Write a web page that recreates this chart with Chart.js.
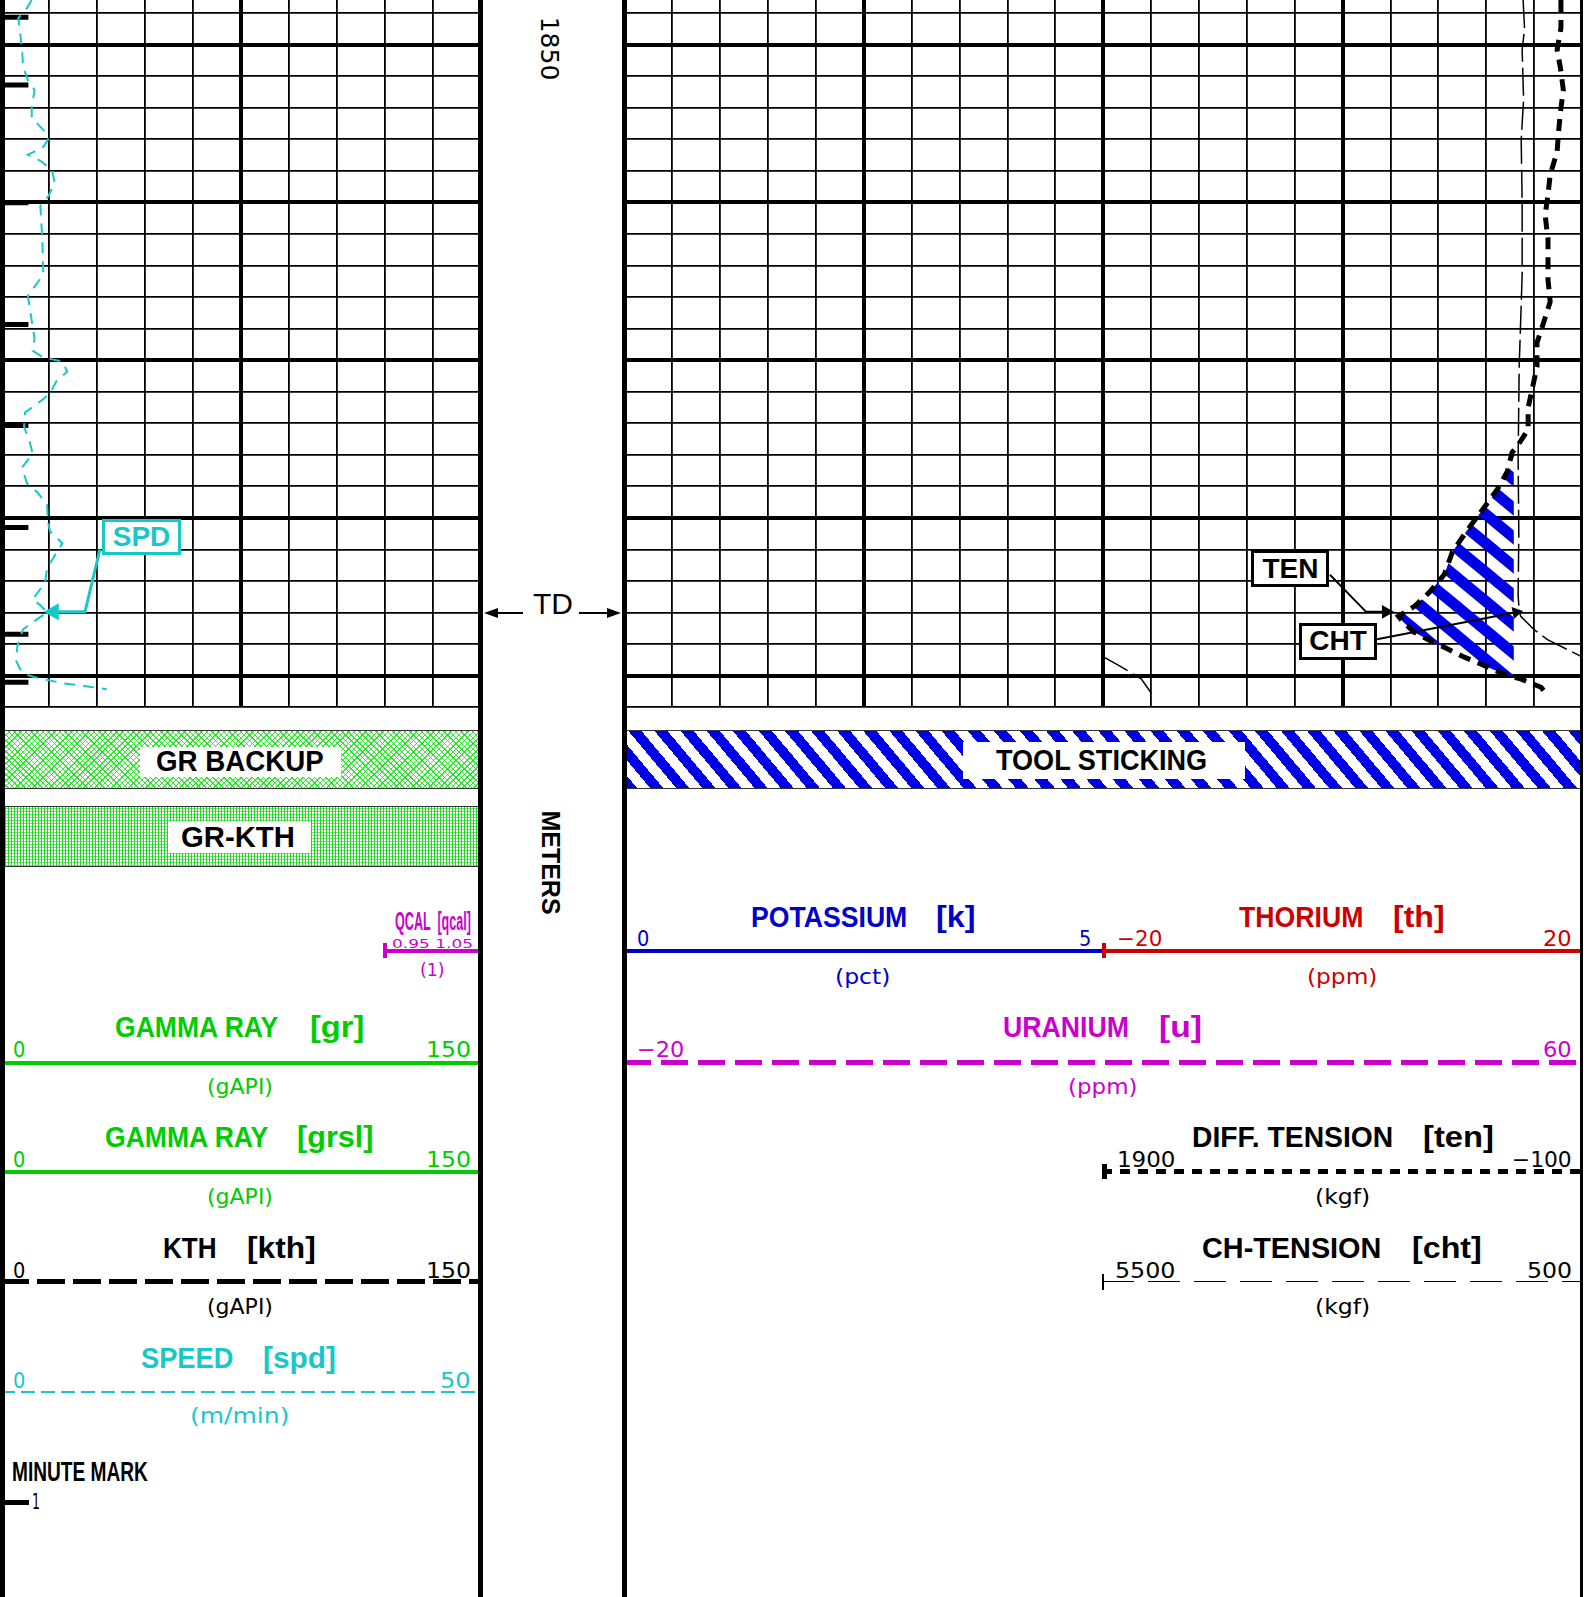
<!DOCTYPE html>
<html>
<head>
<meta charset="utf-8">
<title>Log - GR / KTH / tension</title>
<script src="https://cdn.jsdelivr.net/npm/chart.js@4.4.1/dist/chart.umd.min.js"></script>
<style>
  html, body { margin: 0; padding: 0; background: #fff; }
  #page { position: relative; width: 1584px; height: 1597px; overflow: hidden; background: #fff; }
  canvas { position: absolute; top: 0; }
  .t { position: absolute; white-space: pre; line-height: 1; transform-origin: 0 50%; }
  .ttl { font-family: 'Liberation Sans', Arial, sans-serif; font-weight: bold; }
  .lbl { font-family: 'DejaVu Sans', sans-serif; }
  .r { position: absolute; }
  .tag { position: absolute; box-sizing: border-box; background: #fff; border: 3px solid #000;
         display: flex; align-items: center; justify-content: center;
         font: bold 28px 'Liberation Sans', Arial, sans-serif; }
</style>
</head>
<body>
<div id="page">
  <canvas id="trk1" style="left:0px" width="484" height="712"></canvas>
  <canvas id="trk23" style="left:620px" width="964" height="712"></canvas>
</div>
<script>
const page = document.getElementById('page');
const CYAN = '#18c8c8', GREEN = '#00cc00', BLUE = '#0000cc', RED = '#cc0000', MAG = '#cc00cc', HATCH = '#0000e6';

// depth window of the plot (m)
const depthTop = 1847.18;
const depthBase = 1892;
const depthLabels = [1850];
const tdDepth = 1886.0;

// logging speed, m/min
const spdDepth = [1847.18, 1847.69, 1848.32, 1849.27, 1850.35, 1851.42, 1852.25, 1852.88, 1853.96, 1854.59,
  1855.09, 1855.54, 1856.04, 1856.49, 1856.87, 1856.99, 1857.37, 1857.94, 1858.77, 1859.65,
  1860.22, 1862.31, 1864.59, 1865.92, 1867.50, 1868.64, 1869.40, 1869.84, 1870.09, 1870.73,
  1871.30, 1872.12, 1872.75, 1873.32, 1874.21, 1875.22, 1875.92, 1876.80, 1877.82, 1878.39,
  1879.15, 1880.28, 1880.85, 1881.61, 1882.18, 1883.20, 1884.08, 1885.16, 1885.54, 1885.98,
  1886.61, 1887.06, 1887.37, 1888.13, 1889.08, 1889.59, 1889.90, 1890.09, 1890.47, 1890.66, 1890.85];
const spdValue = [3.2, 2.7, 1.8, 2.0, 2.2, 2.3, 2.8, 3.5, 3.2, 3.2,
  3.9, 4.6, 4.9, 4.4, 3.2, 2.8, 4.1, 5.3, 5.6, 4.9,
  4.1, 4.3, 4.4, 2.8, 3.2, 3.5, 3.3, 4.4, 6.4, 6.9,
  5.8, 5.1, 3.8, 2.5, 2.4, 3.0, 3.3, 2.2, 2.7, 3.8,
  4.8, 4.9, 5.1, 6.4, 5.8, 4.8, 4.6, 3.3, 4.1, 4.8,
  3.3, 2.3, 2.1, 1.7, 1.6, 2.0, 2.5, 3.5, 6.4, 8.8, 11.0];

// minute marks (depth)
const minuteMarks = [1848.28, 1852.56, 1860.03, 1867.75, 1874.15, 1880.60, 1887.37, 1890.41];

// differential tension, kgf
const tenDepth = [1847.18, 1847.82, 1848.96, 1850.35, 1851.49, 1852.88, 1854.27, 1855.54, 1856.80, 1858.26,
  1859.53, 1860.79, 1862.37, 1863.77, 1864.91, 1866.30, 1867.75, 1868.89, 1870.41, 1871.55,
  1873.01, 1874.40, 1875.47, 1875.85, 1877.06, 1878.20, 1879.59, 1880.85, 1882.18, 1883.58,
  1884.72, 1885.60, 1886.23, 1886.55, 1887.25, 1887.69, 1888.20, 1888.77, 1889.27, 1889.90,
  1890.22, 1890.73, 1891.11];
const tenValue = [-12, -12, -12, 4, -10, -22, -10, -2, 4, 33,
  42, 54, 42, 42, 42, 33, 63, 88, 88, 104,
  125, 125, 171, 192, 212, 254, 321, 383, 442, 475,
  538, 600, 667, 650, 600, 546, 475, 400, 321, 225,
  154, 71, 50];

// cable head tension, kgf
const chtDepth = [1847.18, 1849.00, 1850.35, 1853.50, 1856.04, 1860.00, 1864.59, 1870.41, 1876.23, 1881.00,
  1884.91, 1885.92, 1886.24, 1887.08, 1887.71, 1887.92, 1888.34, 1888.87, 1889.44, 1890.20, 1891.08];
const chtValue = [1115, 1100, 1125, 1110, 1135, 1125, 1125, 1156, 1167, 1160,
  1167, 1156, 1139, 1000, 861, 792, 653, 479, 312, 104, 0];

// tool sticking flag: TEN above this value
const stickLimit = 185;

// label leaders (value, depth)
const spdLeaderX = [10.3, 8.75, 5.5], spdLeaderY = [1882.0, 1885.95, 1885.95];
const tenLeaderX = [953, 802, 719], tenLeaderY = [1883.6, 1885.95, 1885.95];
const chtLeaderX = [756, 175], chtLeaderY = [1887.69, 1885.98];

const pairs = (xs, ys) => xs.map((x, i) => ({ x: x, y: ys[i] }));

// CHT wraps round once it passes the right edge (500 kgf)
function splitCht() {
  const main = [], wrap = [];
  for (let i = 0; i < chtDepth.length; i++) {
    const v = chtValue[i], d = chtDepth[i];
    if (i > 0 && (chtValue[i - 1] - 500) * (v - 500) < 0) {
      const t = (500 - chtValue[i - 1]) / (v - chtValue[i - 1]);
      const dc = chtDepth[i - 1] + t * (d - chtDepth[i - 1]);
      main.push({ x: 500, y: dc });
      wrap.push({ x: 5500, y: dc });
    }
    if (v >= 500) main.push({ x: v, y: d });
    else wrap.push({ x: v + 5000, y: d });
  }
  return { main, wrap };
}

// area between TEN and the sticking limit
function stickPolygon() {
  const pts = [];
  for (let i = 0; i < tenDepth.length; i++) {
    const v = tenValue[i], d = tenDepth[i];
    if (i > 0 && (tenValue[i - 1] - stickLimit) * (v - stickLimit) < 0) {
      const t = (stickLimit - tenValue[i - 1]) / (v - tenValue[i - 1]);
      pts.push({ x: stickLimit, y: tenDepth[i - 1] + t * (d - tenDepth[i - 1]) });
    }
    if (v > stickLimit) pts.push({ x: v, y: d });
  }
  return pts;
}

function stripePattern(w, h, lw, color) {
  const c = document.createElement('canvas');
  c.width = w; c.height = h;
  const g = c.getContext('2d');
  g.strokeStyle = color;
  g.lineWidth = lw;
  for (let k = -2; k <= 2; k++) {
    g.beginPath();
    g.moveTo(k * w - w, -h);
    g.lineTo(k * w + 2 * w, 2 * h);
    g.stroke();
  }
  return g.createPattern(c, 'repeat');
}

const gridDepths = [];
for (let d = 1848; d <= depthBase; d += 2) gridDepths.push(d);

function depthAxis() {
  return {
    type: 'linear', reverse: true, min: depthTop, max: depthBase,
    afterBuildTicks: ax => { ax.ticks = gridDepths.map(v => ({ value: v })); },
    grid: { color: '#000', drawTicks: false, lineWidth: c => (c.tick && c.tick.value % 10 === 0) ? 4 : 1.8 },
    border: { display: false },
    ticks: { display: false }
  };
}

const common = {
  responsive: false, animation: false, devicePixelRatio: 1, events: [],
  plugins: { legend: { display: false }, tooltip: { enabled: false } }
};

const trk1 = new Chart(document.getElementById('trk1'), {
  type: 'scatter',
  data: {
    datasets: [
      { label: 'SPD', xAxisID: 'xs', data: pairs(spdValue, spdDepth), showLine: true, fill: false,
        borderColor: CYAN, borderWidth: 2, borderDash: [11, 8], pointRadius: 0 },
      { label: 'Minute mark', xAxisID: 'xs', data: minuteMarks.map(d => ({ x: 1.5, y: d })),
        pointStyle: 'line', pointRadius: 13, pointBorderWidth: 5, pointBorderColor: '#000', borderColor: '#000' },
      { label: 'SPD leader', xAxisID: 'xs', data: pairs(spdLeaderX, spdLeaderY), showLine: true, fill: false,
        borderColor: CYAN, borderWidth: 3, pointRadius: [0, 0, 7], pointStyle: 'triangle', pointRotation: -90,
        pointBackgroundColor: CYAN, pointBorderColor: CYAN }
    ]
  },
  options: Object.assign({}, common, {
    layout: { autoPadding: false, padding: { left: 1, right: 3, top: 0, bottom: 4.7 } },
    scales: {
      x: { type: 'linear', min: 0, max: 150, ticks: { display: false, stepSize: 15 }, border: { display: false },
           grid: { color: '#000', drawTicks: false,
                   lineWidth: c => (c.index === 0 || c.index === 10) ? 0 : (c.index === 5 ? 4 : 1.8) } },
      xs: { type: 'linear', min: 0, max: 50, display: false },
      y: depthAxis()
    }
  })
});

const cht = splitCht();
const trk23 = new Chart(document.getElementById('trk23'), {
  type: 'scatter',
  data: {
    datasets: [
      { label: 'Tool sticking', xAxisID: 'xten', data: stickPolygon(), showLine: true, fill: 'shape',
        backgroundColor: stripePattern(35, 29, 11, HATCH), borderColor: 'rgba(0,0,0,0)', borderWidth: 1,
        pointRadius: 0, order: 5 },
      { label: 'TEN', xAxisID: 'xten', data: pairs(tenValue, tenDepth), showLine: true, fill: false,
        borderColor: '#000', borderWidth: 5, borderDash: [12, 8], pointRadius: 0, order: 1 },
      { label: 'CHT', xAxisID: 'xcht', data: cht.main, showLine: true, fill: false,
        borderColor: '#000', borderWidth: 1.5, borderDash: [28, 6], pointRadius: 0, order: 2 },
      { label: 'CHT wrap', xAxisID: 'xcht', data: cht.wrap, showLine: true, fill: false,
        borderColor: '#000', borderWidth: 1.5, borderDash: [28, 6], pointRadius: 0, order: 2 },
      { label: 'TEN leader', xAxisID: 'xten', data: pairs(tenLeaderX, tenLeaderY), showLine: true, fill: false,
        borderColor: '#000', borderWidth: 2, pointRadius: [0, 0, 6], pointStyle: 'triangle', pointRotation: 90,
        pointBackgroundColor: '#000', pointBorderColor: '#000', order: 0 },
      { label: 'CHT leader', xAxisID: 'xten', data: pairs(chtLeaderX, chtLeaderY), showLine: true, fill: false,
        borderColor: '#000', borderWidth: 2, pointRadius: [0, 5], pointStyle: 'triangle', pointRotation: 79,
        pointBackgroundColor: '#000', pointBorderColor: '#000', order: 0 }
    ]
  },
  options: Object.assign({}, common, {
    layout: { autoPadding: false, padding: { left: 4.5, right: 2, top: 0, bottom: 4.7 } },
    scales: {
      x: { type: 'linear', min: 0, max: 20, ticks: { display: false, stepSize: 1 }, border: { display: false },
           grid: { color: '#000', drawTicks: false,
                   lineWidth: c => (c.index === 0 || c.index === 20) ? 0 : (c.index % 5 === 0 ? 4 : 1.8) } },
      xten: { type: 'linear', min: -100, max: 3900, reverse: true, display: false },
      xcht: { type: 'linear', min: 500, max: 10500, reverse: true, display: false },
      y: depthAxis()
    }
  })
});

// ---------- html helpers ----------
function box(x1, y1, x2, y2, css) {
  const d = document.createElement('div');
  d.className = 'r';
  d.style.cssText = `left:${x1}px;top:${y1}px;width:${x2 - x1}px;height:${y2 - y1}px;` + (css || '');
  page.appendChild(d);
  return d;
}
function txt(str, x1, x2, yc, size, color, cls) {
  const d = document.createElement('div');
  d.className = 't ' + cls;
  d.textContent = str;
  d.style.cssText = `font-size:${size}px;color:${color};left:${x1}px;top:${yc - size * 0.49}px;`;
  page.appendChild(d);
  d.style.transform = `scaleX(${((x2 - x1) / d.offsetWidth).toFixed(3)})`;
  return d;
}
function hline(x1, x2, y, th, color, dash) {
  const bg = dash
    ? `repeating-linear-gradient(90deg,${color} 0 ${dash[0]}px,transparent ${dash[0]}px ${dash[0] + dash[1]}px)`
    : color;
  return box(x1, y - th / 2, x2, y + th / 2, `background:${bg};`);
}
function rotText(str, cx, cy, size, weight, family) {
  const d = document.createElement('div');
  d.className = 't';
  d.textContent = str;
  d.style.cssText = `font-family:${family};font-size:${size}px;font-weight:${weight};color:#000;`;
  page.appendChild(d);
  const w = d.offsetWidth, h = d.offsetHeight;
  d.style.left = (cx - w / 2) + 'px';
  d.style.top = (cy - h / 2) + 'px';
  d.style.transformOrigin = '50% 50%';
  d.style.transform = 'rotate(90deg)';
}

// ---------- header: flags ----------
box(2, 730, 480, 789, 'border-top:1.5px solid #333;border-bottom:1.5px solid #333;box-sizing:border-box;' +
  'background-color:#fff;background-image:repeating-linear-gradient(45deg,rgba(0,230,0,.8) 0 1px,transparent 1px 4px),' +
  'repeating-linear-gradient(-45deg,rgba(0,230,0,.8) 0 1px,transparent 1px 4px);');
box(140, 747, 341, 777, 'background:#fff;');
txt('GR BACKUP', 156, 324, 761, 29, '#000', 'ttl');

box(2, 806, 480, 867, 'border-top:1.5px solid #333;border-bottom:1.5px solid #333;box-sizing:border-box;' +
  'background-color:#fff;background-image:repeating-linear-gradient(90deg,rgba(0,210,0,.85) 0 1px,transparent 1px 3px),' +
  'repeating-linear-gradient(0deg,rgba(0,210,0,.55) 0 1px,transparent 1px 3px);');
box(168, 821, 311, 853, 'background:#fff;');
txt('GR-KTH', 181, 295, 837, 29, '#000', 'ttl');

box(624, 730, 1581, 789, 'border-top:1.5px solid #333;border-bottom:1.5px solid #333;box-sizing:border-box;' +
  'background:repeating-linear-gradient(50deg,' + HATCH + ' 0 10px,#fff 10px 20px);');
box(963, 742, 1245, 779, 'background:#fff;');
txt('TOOL STICKING', 996, 1207, 760, 29, '#000', 'ttl');

// ---------- header: track 1 curves ----------
txt('QCAL  [qcal]', 395, 471, 921, 26, MAG, 'ttl');
txt('0.95 1.05', 392, 473, 943, 13, MAG, 'lbl');
hline(383, 481, 950.5, 4, MAG);
box(383, 943, 387, 958, 'background:' + MAG + ';');
txt('(1)', 420, 445, 970, 18, MAG, 'lbl');

txt('GAMMA RAY', 115, 278, 1027, 29, GREEN, 'ttl');
txt('[gr]', 310, 364, 1027, 29, GREEN, 'ttl');
txt('0', 13, 25, 1050, 21, GREEN, 'lbl');
txt('150', 426, 471, 1050, 21, GREEN, 'lbl');
hline(1, 481, 1062.5, 4, GREEN);
txt('(gAPI)', 207, 273, 1087, 21, GREEN, 'lbl');

txt('GAMMA RAY', 105, 268, 1137, 29, GREEN, 'ttl');
txt('[grsl]', 297, 374, 1137, 29, GREEN, 'ttl');
txt('0', 13, 25, 1160, 21, GREEN, 'lbl');
txt('150', 426, 471, 1160, 21, GREEN, 'lbl');
hline(1, 481, 1171.5, 4, GREEN);
txt('(gAPI)', 207, 273, 1197, 21, GREEN, 'lbl');

txt('KTH', 163, 217, 1248, 29, '#000', 'ttl');
txt('[kth]', 247, 316, 1248, 29, '#000', 'ttl');
txt('0', 13, 25, 1271, 21, '#000', 'lbl');
txt('150', 426, 471, 1271, 21, '#000', 'lbl');
hline(1, 481, 1281.5, 5, '#000', [28, 8]);
txt('(gAPI)', 207, 273, 1307, 21, '#000', 'lbl');

txt('SPEED', 141, 233, 1358, 29, CYAN, 'ttl');
txt('[spd]', 263, 336, 1358, 29, CYAN, 'ttl');
txt('0', 13, 25, 1381, 21, CYAN, 'lbl');
txt('50', 440, 471, 1381, 21, CYAN, 'lbl');
hline(1, 481, 1391.5, 2, CYAN, [14, 6]);
txt('(m/min)', 190, 290, 1416, 21, CYAN, 'lbl');

txt('MINUTE MARK', 12, 148, 1472, 27, '#000', 'ttl');
box(5, 1499.5, 29, 1504.5, 'background:#000;');
txt('1', 32, 40, 1502, 22, '#000', 'lbl');

// ---------- header: tracks 2-3 ----------
txt('POTASSIUM', 751, 907, 917, 29, BLUE, 'ttl');
txt('[k]', 936, 975, 917, 29, BLUE, 'ttl');
txt('0', 637, 649, 939, 21, BLUE, 'lbl');
txt('5', 1079, 1091, 939, 21, BLUE, 'lbl');
hline(624, 1102, 950.5, 4, BLUE);
txt('(pct)', 835, 891, 977, 21, BLUE, 'lbl');

txt('THORIUM', 1239, 1363, 917, 29, RED, 'ttl');
txt('[th]', 1393, 1445, 917, 29, RED, 'ttl');
txt('\u221220', 1117, 1162, 939, 21, RED, 'lbl');
txt('20', 1543, 1572, 939, 21, RED, 'lbl');
hline(1102, 1581, 950.5, 4, RED);
box(1102, 943, 1106, 958, 'background:' + RED + ';');
txt('(ppm)', 1307, 1378, 977, 21, RED, 'lbl');

txt('URANIUM', 1003, 1129, 1027, 29, MAG, 'ttl');
txt('[u]', 1159, 1202, 1027, 29, MAG, 'ttl');
txt('\u221220', 637, 684, 1050, 21, MAG, 'lbl');
txt('60', 1543, 1572, 1050, 21, MAG, 'lbl');
hline(624, 1581, 1062.5, 5, MAG, [27, 10]);
txt('(ppm)', 1068, 1138, 1087, 21, MAG, 'lbl');

txt('DIFF. TENSION', 1192, 1393, 1137, 29, '#000', 'ttl');
txt('[ten]', 1423, 1494, 1137, 29, '#000', 'ttl');
txt('1900', 1117, 1175, 1160, 21, '#000', 'lbl');
txt('\u2212100', 1512, 1572, 1160, 21, '#000', 'lbl');
hline(1102, 1581, 1171.5, 5, '#000', [10, 8]);
box(1102, 1164, 1107, 1179, 'background:#000;');
txt('(kgf)', 1315, 1370, 1197, 21, '#000', 'lbl');

txt('CH-TENSION', 1202, 1381, 1248, 29, '#000', 'ttl');
txt('[cht]', 1412, 1482, 1248, 29, '#000', 'ttl');
txt('5500', 1115, 1175, 1271, 21, '#000', 'lbl');
txt('500', 1527, 1572, 1271, 21, '#000', 'lbl');
hline(1102, 1581, 1281.5, 1.5, '#000', [32, 14]);
box(1102, 1274, 1103.5, 1290, 'background:#000;');
txt('(kgf)', 1315, 1370, 1307, 21, '#000', 'lbl');

// ---------- depth track ----------
const yPix = v => trk1.scales.y.getPixelForValue(v);
depthLabels.forEach(d => rotText(String(d), 550, yPix(d) + 3.5, 25, 'normal', "'DejaVu Sans', sans-serif"));
rotText('METERS', 550, 862, 25, 'bold', "'Liberation Sans', Arial, sans-serif");
const tdY = yPix(tdDepth);
txt('TD', 533, 573, tdY - 9, 30, '#000', 'ttl').style.fontWeight = 'normal';
box(490, tdY - 1, 523, tdY + 1, 'background:#000;');
box(484, tdY - 5, 484, tdY + 5, 'border-top:5px solid transparent;border-bottom:5px solid transparent;border-right:14px solid #000;box-sizing:content-box;height:0;top:' + (tdY - 5) + 'px;');
box(579, tdY - 1, 612, tdY + 1, 'background:#000;');
box(607, tdY - 5, 607, tdY + 5, 'border-top:5px solid transparent;border-bottom:5px solid transparent;border-left:14px solid #000;box-sizing:content-box;height:0;top:' + (tdY - 5) + 'px;');

// ---------- track borders ----------
box(0, 0, 5, 1597, 'background:#000;');
box(478, 0, 483, 1597, 'background:#000;');
box(622, 0, 627, 1597, 'background:#000;');
box(1580, 0, 1583, 1597, 'background:#000;');

// ---------- curve tags ----------
const tags = [
  { chart: trk1, left: 0, axis: 'xs', x: 14.64, y: 1881.22, w: 79, h: 36, text: 'SPD', color: CYAN },
  { chart: trk23, left: 620, axis: 'xten', x: 1118, y: 1883.22, w: 78, h: 37, text: 'TEN', color: '#000' },
  { chart: trk23, left: 620, axis: 'xten', x: 919, y: 1887.81, w: 78, h: 37, text: 'CHT', color: '#000' }
];
tags.forEach(t => {
  const cx = t.left + t.chart.scales[t.axis].getPixelForValue(t.x);
  const cy = t.chart.scales.y.getPixelForValue(t.y);
  const d = document.createElement('div');
  d.className = 'tag';
  d.textContent = t.text;
  d.style.cssText = `left:${cx - t.w / 2}px;top:${cy - t.h / 2}px;width:${t.w}px;height:${t.h}px;color:${t.color};border-color:${t.color};`;
  page.appendChild(d);
});
</script>
</body>
</html>
